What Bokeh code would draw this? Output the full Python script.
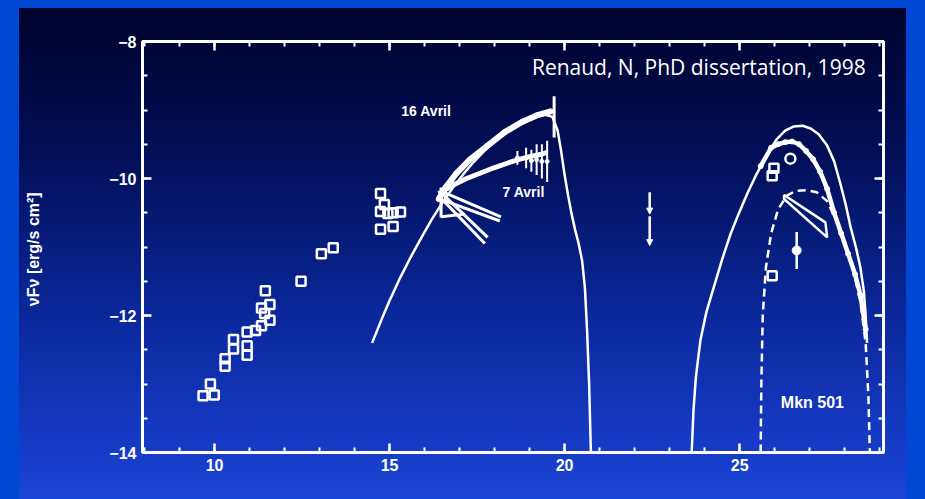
from bokeh.plotting import figure
from bokeh.models import (ColumnDataSource, LinearAxis, SingleIntervalTicker, Label,
                          Arrow, NormalHead)
from bokeh.embed import file_html
from bokeh.resources import INLINE

# ---------------- data ----------------
x_ticks = [10, 15, 20, 25]
y_ticks = [-8, -10, -12, -14]
y_tick_labels = ["\u22128", "\u221210", "\u221212", "\u221214"]

radio_x = [9.67, 9.99, 9.88, 10.30, 10.30, 10.54, 10.54, 10.93, 10.93, 10.93, 11.17, 11.34,
           11.34, 11.58, 11.58, 11.45, 11.43, 12.47, 13.05, 13.39, 14.74, 14.85, 14.74, 14.95,
           15.10, 15.31, 14.74, 15.10]
radio_y = [-13.17, -13.16, -13.0, -12.74, -12.63, -12.35, -12.49, -12.24, -12.44, -12.58, -12.22,
           -12.15, -11.89, -11.84, -12.07, -11.64, -11.97, -11.50, -11.10, -11.01, -10.22, -10.38,
           -10.48, -10.51, -10.50, -10.49, -10.74, -10.70]

sync_x = [14.5, 14.8, 15.0, 15.3, 15.6, 15.9, 16.2, 16.5, 16.8, 17.1, 17.4, 17.7, 18.0, 18.3,
          18.6, 18.9, 19.2, 19.45, 19.65, 19.8, 19.9, 20.0, 20.1, 20.2, 20.3, 20.4, 20.5, 20.58,
          20.64, 20.7, 20.75]
sync_y = [-12.4, -12.02, -11.78, -11.45, -11.15, -10.87, -10.6, -10.36, -10.14, -9.94, -9.76,
          -9.6, -9.46, -9.34, -9.24, -9.16, -9.1, -9.07, -9.1, -9.3, -9.6, -9.95, -10.25, -10.52,
          -10.75, -10.95, -11.2, -11.6, -12.2, -13.0, -14.0]

apr16_x = [16.4, 16.6, 16.9, 17.3, 17.8, 18.3, 18.8, 19.2, 19.6]
apr16_y = [-10.3, -10.13, -9.93, -9.72, -9.52, -9.32, -9.17, -9.08, -9.02]
apr16_spike_x = [19.7]
apr16_spike_lo = [-9.4]
apr16_spike_hi = [-8.8]

apr7_x = [16.4, 16.8, 17.2, 17.6, 18.0, 18.4, 18.7, 19.0, 19.3, 19.5]
apr7_y = [-10.22, -10.1, -10.0, -9.92, -9.84, -9.77, -9.72, -9.68, -9.65, -9.62]
apr7_err_x = [18.65, 18.9, 19.05, 19.2, 19.35, 19.5]
apr7_err_lo = [-9.8, -9.85, -9.9, -9.95, -10.0, -10.05]
apr7_err_hi = [-9.6, -9.55, -9.58, -9.5, -9.5, -9.45]

xray_bt_xs = [[16.45, 18.18], [16.45, 18.15], [16.5, 17.8], [16.55, 17.72], [16.47, 16.47], [16.47, 17.15]]
xray_bt_ys = [[-10.18, -10.56], [-10.3, -10.62], [-10.22, -10.86], [-10.33, -10.95], [-10.13, -10.57], [-10.56, -10.52]]

ul_x = [22.43, 22.43]
ul_top = [-10.2, -10.55]
ul_bottom = [-10.52, -10.98]

ic_outer_x = [23.63, 23.68, 23.75, 23.88, 24.05, 24.26, 24.5, 24.74, 25.0, 25.22, 25.45, 25.69,
              25.9, 26.07, 26.3, 26.55, 26.8, 27.03, 27.25, 27.5, 27.7, 27.88, 28.03, 28.17,
              28.32, 28.45, 28.55, 28.6, 28.64]
ic_outer_y = [-14.0, -13.4, -12.9, -12.36, -11.95, -11.59, -11.18, -10.81, -10.48, -10.22, -9.97,
              -9.74, -9.55, -9.42, -9.3, -9.24, -9.23, -9.27, -9.35, -9.52, -9.75, -10.08, -10.38,
              -10.71, -11.0, -11.3, -11.65, -12.0, -12.4]

ic_data_x = [25.6, 25.9, 26.1, 26.3, 26.5, 26.7, 26.9, 27.1, 27.3, 27.5, 27.7, 27.9, 28.1, 28.3,
             28.45, 28.6]
ic_data_y = [-9.82, -9.55, -9.5, -9.47, -9.46, -9.5, -9.6, -9.72, -9.9, -10.15, -10.5, -10.8,
             -11.1, -11.4, -11.7, -12.2]

mkn_x = [25.6, 25.62, 25.66, 25.75, 25.9, 26.1, 26.35, 26.6, 26.9, 27.2, 27.5, 27.75, 28.0,
         28.25, 28.45, 28.6, 28.68, 28.72]
mkn_y = [-14.0, -13.0, -12.0, -11.3, -10.8, -10.45, -10.25, -10.18, -10.17, -10.2, -10.33, -10.6,
         -10.95, -11.35, -11.8, -12.4, -13.2, -14.0]

ic_sq_x = [25.93, 25.98, 25.93]
ic_sq_y = [-9.96, -9.85, -11.42]
ic_circ_x = [26.45]
ic_circ_y = [-9.71]
ic_pt_x = [26.63]
ic_pt_y = [-11.05]
ic_pt_lo = [-11.32]
ic_pt_hi = [-10.78]

gev_bt_x = [26.27, 27.45, 27.5, 26.27]
gev_bt_y = [-10.24, -10.64, -10.86, -10.3]

W = "white"
BOLD = "Liberation Sans"

p = figure(width=925, height=499, x_range=(7.94, 29.11), y_range=(-14, -8),
           output_backend="svg", toolbar_location=None,
           min_border_left=142, min_border_right=42, min_border_top=41, min_border_bottom=47,
           x_axis_location=None, y_axis_location=None)
p.background_fill_color = None
p.border_fill_color = None
p.outline_line_color = W
p.outline_line_width = 3
p.grid.visible = False
p.styles = {"background": "linear-gradient(to bottom, #00032c 0%, #020f58 30%, #0a2696 60%, "
                          "#1438c0 85%, #1a44d4 100%) 19px 8px / 887px 491px no-repeat, #0048d4"}


def style_axis(ax, labels=True):
    ax.axis_line_color = W
    ax.axis_line_width = 3
    ax.major_tick_line_color = W
    ax.minor_tick_line_color = W
    ax.major_tick_line_width = 2.5
    ax.minor_tick_line_width = 2
    ax.major_tick_in = 9
    ax.major_tick_out = 0
    ax.minor_tick_in = 5
    ax.minor_tick_out = 0
    ax.major_label_text_color = W
    ax.major_label_text_font = BOLD
    ax.major_label_text_font_style = "bold"
    ax.major_label_text_font_size = "16px"


xb = LinearAxis(ticker=SingleIntervalTicker(interval=5, num_minor_ticks=5))
style_axis(xb)
xb.major_label_standoff = 6
xt = LinearAxis(ticker=SingleIntervalTicker(interval=5, num_minor_ticks=5))
style_axis(xt)
xt.major_label_overrides = {t: "" for t in range(5, 35, 5)}
yl = LinearAxis(ticker=SingleIntervalTicker(interval=2, num_minor_ticks=4))
style_axis(yl)
yl.major_label_standoff = 6
yl.major_label_overrides = {t: s for t, s in zip(y_ticks, y_tick_labels)}
yl.axis_label = "\u03bdF\u03bd  [erg/s cm\u00b2]"
yl.axis_label_text_color = W
yl.axis_label_text_font = BOLD
yl.axis_label_text_font_style = "bold"
yl.axis_label_text_font_size = "16px"
yl.axis_label_standoff = 64
yr = LinearAxis(ticker=SingleIntervalTicker(interval=2, num_minor_ticks=4))
style_axis(yr)
yr.major_label_overrides = {t: "" for t in y_ticks}
p.add_layout(xb, "below")
p.add_layout(xt, "above")
p.add_layout(yl, "left")
p.add_layout(yr, "right")

# ---------------- glyphs ----------------
p.scatter(radio_x, radio_y, marker="square", size=9, fill_color=None, line_color=W, line_width=2.5)

p.line(sync_x, sync_y, line_color=W, line_width=2.5)
p.line(apr16_x, apr16_y, line_color=W, line_width=6)
p.scatter(apr16_x, apr16_y, size=5, color=W)
p.segment(apr16_spike_x, apr16_spike_lo, apr16_spike_x, apr16_spike_hi, line_color=W, line_width=3)

p.line(apr7_x, apr7_y, line_color=W, line_width=5)
p.segment(apr7_err_x, apr7_err_lo, apr7_err_x, apr7_err_hi, line_color=W, line_width=2)
p.scatter(apr7_err_x, [(a + b) / 2 for a, b in zip(apr7_err_lo, apr7_err_hi)], size=4, color=W)

p.multi_line(xray_bt_xs, xray_bt_ys, line_color=W, line_width=3)

ul_src = ColumnDataSource(dict(x=ul_x, y0=ul_top, y1=ul_bottom))
p.add_layout(Arrow(end=NormalHead(size=6, fill_color=W, line_color=W), source=ul_src,
                   x_start="x", y_start="y0", x_end="x", y_end="y1",
                   line_color=W, line_width=2.5))

p.line(ic_outer_x, ic_outer_y, line_color=W, line_width=2.5)
p.line(ic_data_x, ic_data_y, line_color=W, line_width=4.5)
p.scatter(ic_data_x, ic_data_y, size=5, color=W)
p.line(mkn_x, mkn_y, line_color=W, line_width=2.5, line_dash="8 5")

p.scatter(ic_sq_x, ic_sq_y, marker="square", size=9, fill_color=None, line_color=W, line_width=2.5)
p.scatter(ic_circ_x, ic_circ_y, marker="circle", size=10, fill_color=None, line_color=W, line_width=2.5)
p.segment(ic_pt_x, ic_pt_lo, ic_pt_x, ic_pt_hi, line_color=W, line_width=2.5)
p.scatter(ic_pt_x, ic_pt_y, marker="circle", size=9, color=W)
p.patch(gev_bt_x, gev_bt_y, fill_color=None, line_color=W, line_width=2.5)

# ---------------- texts ----------------
p.add_layout(Label(x=28.6, y=-8.37, text="Renaud, N, PhD dissertation, 1998", text_color=W,
                   text_font="Open Sans", text_font_size="21px", text_align="right",
                   text_baseline="middle"))
for tx, ty, tt, fs in [(16.05, -9.01, "16 Avril", "14px"), (18.83, -10.2, "7 Avril", "14px"),
                       (27.08, -13.27, "Mkn 501", "16px")]:
    p.add_layout(Label(x=tx, y=ty, text=tt, text_color=W, text_font=BOLD,
                       text_font_style="bold", text_font_size=fs, text_align="center",
                       text_baseline="middle"))
p.add_layout(Label(x=17.6, y=-14.51, text="\u03bd [Hz]", text_color=W, text_font=BOLD,
                   text_font_style="bold", text_font_size="15px", text_align="center",
                   text_baseline="middle"))

open("out.html", "w").write(file_html(p, INLINE))
